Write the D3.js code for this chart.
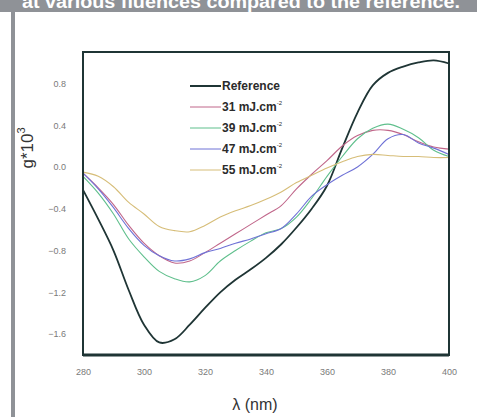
<!DOCTYPE html>
<html>
<head>
<meta charset="utf-8">
<script src="https://cdn.jsdelivr.net/npm/d3@7"></script>
<style>
  body { margin: 0; background: #fff; }
  svg { display: block; font-family: "Liberation Sans", Arial, sans-serif; }
</style>
</head>
<body>
<div id="view"></div>
<script>
// wavelengths (nm)
const lambda = [280, 285, 290, 295, 300, 305, 310, 315, 320, 325, 330, 335, 340,
                345, 350, 355, 360, 365, 370, 375, 380, 385, 390, 395, 400];

// g * 10^3 for each sample
const reference = [-0.22, -0.50, -0.80, -1.18, -1.51, -1.68, -1.65, -1.51, -1.35, -1.20, -1.08, -0.98, -0.87,
                   -0.74, -0.58, -0.40, -0.18, 0.18, 0.52, 0.78, 0.90, 0.96, 1.00, 1.02, 0.99];
const f31 = [-0.06, -0.20, -0.36, -0.56, -0.73, -0.85, -0.92, -0.90, -0.82, -0.73, -0.64, -0.55, -0.46,
             -0.37, -0.21, -0.07, 0.06, 0.20, 0.30, 0.35, 0.35, 0.31, 0.24, 0.19, 0.17];
const f39 = [-0.09, -0.25, -0.45, -0.69, -0.86, -1.00, -1.07, -1.10, -1.04, -0.90, -0.80, -0.71, -0.63,
             -0.59, -0.48, -0.30, -0.09, 0.10, 0.27, 0.37, 0.41, 0.36, 0.28, 0.16, 0.10];
const f47 = [-0.06, -0.21, -0.39, -0.59, -0.75, -0.85, -0.90, -0.88, -0.82, -0.78, -0.73, -0.69, -0.64,
             -0.59, -0.45, -0.28, -0.17, -0.08, 0.00, 0.12, 0.27, 0.31, 0.23, 0.18, 0.12];
const f55 = [-0.05, -0.09, -0.19, -0.34, -0.45, -0.57, -0.61, -0.62, -0.56, -0.48, -0.42, -0.37, -0.31,
             -0.24, -0.15, -0.08, -0.01, 0.05, 0.10, 0.12, 0.11, 0.10, 0.10, 0.09, 0.09];

const seriesNames = ["Reference", "31 mJ.cm", "39 mJ.cm", "47 mJ.cm", "55 mJ.cm"];
const seriesValues = [reference, f31, f39, f47, f55];
const seriesColors = ["#1f3535", "#c0668a", "#5fbf8c", "#6f72d6", "#d6bd78"];

const xTicks = [280, 300, 320, 340, 360, 380, 400];
const yTicks = [0.8, 0.4, 0.0, -0.4, -0.8, -1.2, -1.6];

const W = 477, H = 417;
const svg = d3.select("#view").append("svg")
    .attr("width", W)
    .attr("height", H);

// grey page decoration (caption cut at the top edge, as in the source)
svg.append("rect").attr("x", 0).attr("y", 0).attr("width", W).attr("height", 12).attr("fill", "#8f9297");
svg.append("rect").attr("x", 11).attr("y", 12).attr("width", 4).attr("height", H - 12).attr("fill", "#8f9297");
svg.append("text")
    .attr("x", 22).attr("y", 8)
    .attr("textLength", 438).attr("lengthAdjust", "spacingAndGlyphs")
    .attr("fill", "#fff").attr("font-weight", "bold").attr("font-size", 18)
    .text("at various fluences compared to the reference.");

const plot = {left: 83, right: 449, top: 52, bottom: 355};

const x = d3.scaleLinear().domain([280, 400]).range([plot.left, plot.right]);
const y = d3.scaleLinear().domain([-1.8, 1.1]).range([plot.bottom, plot.top]);

// x axis labels
svg.append("g")
    .attr("transform", `translate(0, ${plot.bottom + 17})`)
    .call(d3.axisBottom(x).tickValues(xTicks).tickSize(0).tickFormat(d3.format("d")))
    .call(g => g.select(".domain").remove())
    .call(g => g.selectAll("text").attr("fill", "#7a7a7a").attr("font-size", 9).attr("dy", 0));

// y axis labels
svg.append("g")
    .attr("transform", `translate(${plot.left - 17}, 0)`)
    .call(d3.axisLeft(y).tickValues(yTicks).tickSize(0).tickFormat(d3.format(".1f")))
    .call(g => g.select(".domain").remove())
    .call(g => g.selectAll("text").attr("fill", "#7a7a7a").attr("font-size", 9).attr("x", 0));

// curves
const line = d3.line()
    .x((d, i) => x(lambda[i]))
    .y(d => y(d))
    .curve(d3.curveCatmullRom.alpha(0.5));

seriesValues.forEach((vals, k) => {
    svg.append("path")
        .datum(vals)
        .attr("fill", "none")
        .attr("stroke", seriesColors[k])
        .attr("stroke-width", k === 0 ? 1.8 : 1.1)
        .attr("stroke-linejoin", "round")
        .attr("d", line);
});

// frame
svg.append("rect")
    .attr("x", plot.left).attr("y", plot.top)
    .attr("width", plot.right - plot.left).attr("height", plot.bottom - plot.top)
    .attr("fill", "none").attr("stroke", "#1f3535").attr("stroke-width", 2);
svg.append("line")
    .attr("x1", plot.left).attr("x2", plot.right)
    .attr("y1", plot.bottom).attr("y2", plot.bottom)
    .attr("stroke", "#1f3535").attr("stroke-width", 3);

// legend
const legend = svg.append("g").attr("transform", "translate(190, 86)");
seriesNames.forEach((name, k) => {
    const g = legend.append("g").attr("transform", `translate(0, ${k * 21})`);
    g.append("line")
        .attr("x1", 0).attr("x2", 31)
        .attr("stroke", seriesColors[k])
        .attr("stroke-width", k === 0 ? 2 : 1);
    const t = g.append("text")
        .attr("x", 32).attr("y", 4)
        .attr("font-size", 12).attr("font-weight", "bold").attr("fill", "#2b2b2b")
        .text(name);
    if (k > 0) {
        t.append("tspan").attr("font-size", 6).attr("font-weight", "normal").attr("dy", -6).text("-2");
    }
});

// axis titles
svg.append("text")
    .attr("x", 255).attr("y", 410)
    .attr("text-anchor", "middle")
    .attr("font-size", 16).attr("fill", "#333")
    .text("λ (nm)");

const yl = svg.append("text")
    .attr("transform", "translate(33, 148) rotate(-90)")
    .attr("text-anchor", "middle")
    .attr("font-size", 17).attr("fill", "#333");
yl.append("tspan").text("g*10");
yl.append("tspan").attr("font-size", 11).attr("dy", -8).text("3");
</script>
</body>
</html>
